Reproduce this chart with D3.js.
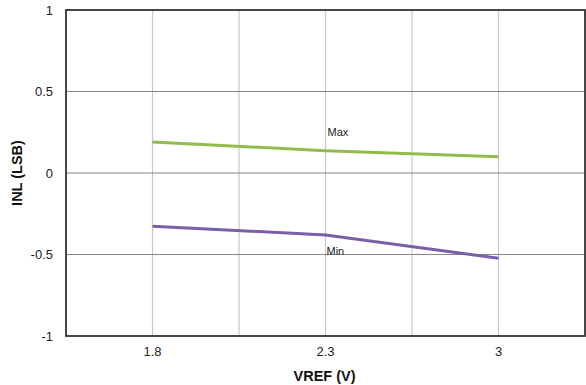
<!DOCTYPE html>
<html><head><meta charset="utf-8">
<script src="https://cdn.jsdelivr.net/npm/d3@7"></script>
<style>body{margin:0;background:#fff}svg{display:block;font-family:"Liberation Sans",Arial,sans-serif}</style>
</head><body><svg id="c" width="586" height="385"></svg>
<script>
const categories = ["1.8", "2.3", "3"];
const maxValues = [0.19, 0.137, 0.10];
const minValues = [-0.327, -0.38, -0.523];
const yTicks = [-1, -0.5, 0, 0.5, 1];
const yTickLabels = ["-1", "-0.5", "0", "0.5", "1"];

const svg = d3.select("#c");
const L = 66, R = 585, T = 10, B = 336;
const x = d3.scaleBand().domain(categories).range([L, R]).padding(0);
const y = d3.scaleLinear().domain([-1, 1]).range([B, T]);
const cx = d => x(d) + x.bandwidth() / 2;

// vertical grid: band edges and centers
const vg = [];
categories.forEach(c => { vg.push(x(c)); vg.push(cx(c)); });
vg.push(R);
svg.append("g").selectAll("line").data(vg.slice(1, -1)).join("line")
  .attr("x1", d => d).attr("x2", d => d).attr("y1", T).attr("y2", B)
  .attr("stroke", "#c8c8c8").attr("stroke-width", 1.2);
svg.append("g").selectAll("line").data(yTicks.slice(1, -1)).join("line")
  .attr("x1", L).attr("x2", R).attr("y1", d => y(d)).attr("y2", d => y(d))
  .attr("stroke", "#878787").attr("stroke-width", 1.2);

// frame
svg.append("rect").attr("x", L).attr("y", T).attr("width", R - L).attr("height", B - T)
  .attr("fill", "none").attr("stroke", "#333").attr("stroke-width", 1.8);

const line = d3.line().x((d, i) => cx(categories[i])).y(d => y(d));
svg.append("path").datum(maxValues).attr("d", line).attr("fill", "none")
  .attr("stroke", "#92bb4b").attr("stroke-width", 3);
svg.append("path").datum(minValues).attr("d", line).attr("fill", "none")
  .attr("stroke", "#7d5ca8").attr("stroke-width", 3);

// axes
const yAxis = d3.axisLeft(y).tickValues(yTicks)
  .tickFormat((d, i) => yTickLabels[i]).tickSize(0).tickPadding(13);
const ya = svg.append("g").attr("transform", `translate(${L},0)`).call(yAxis);
ya.select(".domain").remove();
ya.selectAll("text").attr("font-size", 13).attr("fill", "#222").attr("font-family", "Liberation Sans, Arial, sans-serif");

const xAxis = d3.axisBottom(x).tickSize(0).tickPadding(11);
const xa = svg.append("g").attr("transform", `translate(0,${B})`).call(xAxis);
xa.select(".domain").remove();
xa.selectAll("text").attr("font-size", 13).attr("fill", "#222").attr("font-family", "Liberation Sans, Arial, sans-serif");

// series labels
svg.append("text").attr("x", cx("2.3") + 2).attr("y", 136).attr("font-size", 11).attr("fill", "#222").text("Max");
svg.append("text").attr("x", cx("2.3") + 1).attr("y", 255).attr("font-size", 11).attr("fill", "#222").text("Min");

// titles
svg.append("text").attr("x", (L + R) / 2 - 1).attr("y", 381).attr("text-anchor", "middle")
  .attr("font-size", 14.5).attr("font-weight", "bold").attr("fill", "#111").text("VREF (V)");
svg.append("text").attr("transform", `translate(22,${(T + B) / 2}) rotate(-90)`).attr("text-anchor", "middle")
  .attr("font-size", 14.5).attr("font-weight", "bold").attr("fill", "#111").text("INL (LSB)");
</script></body></html>
